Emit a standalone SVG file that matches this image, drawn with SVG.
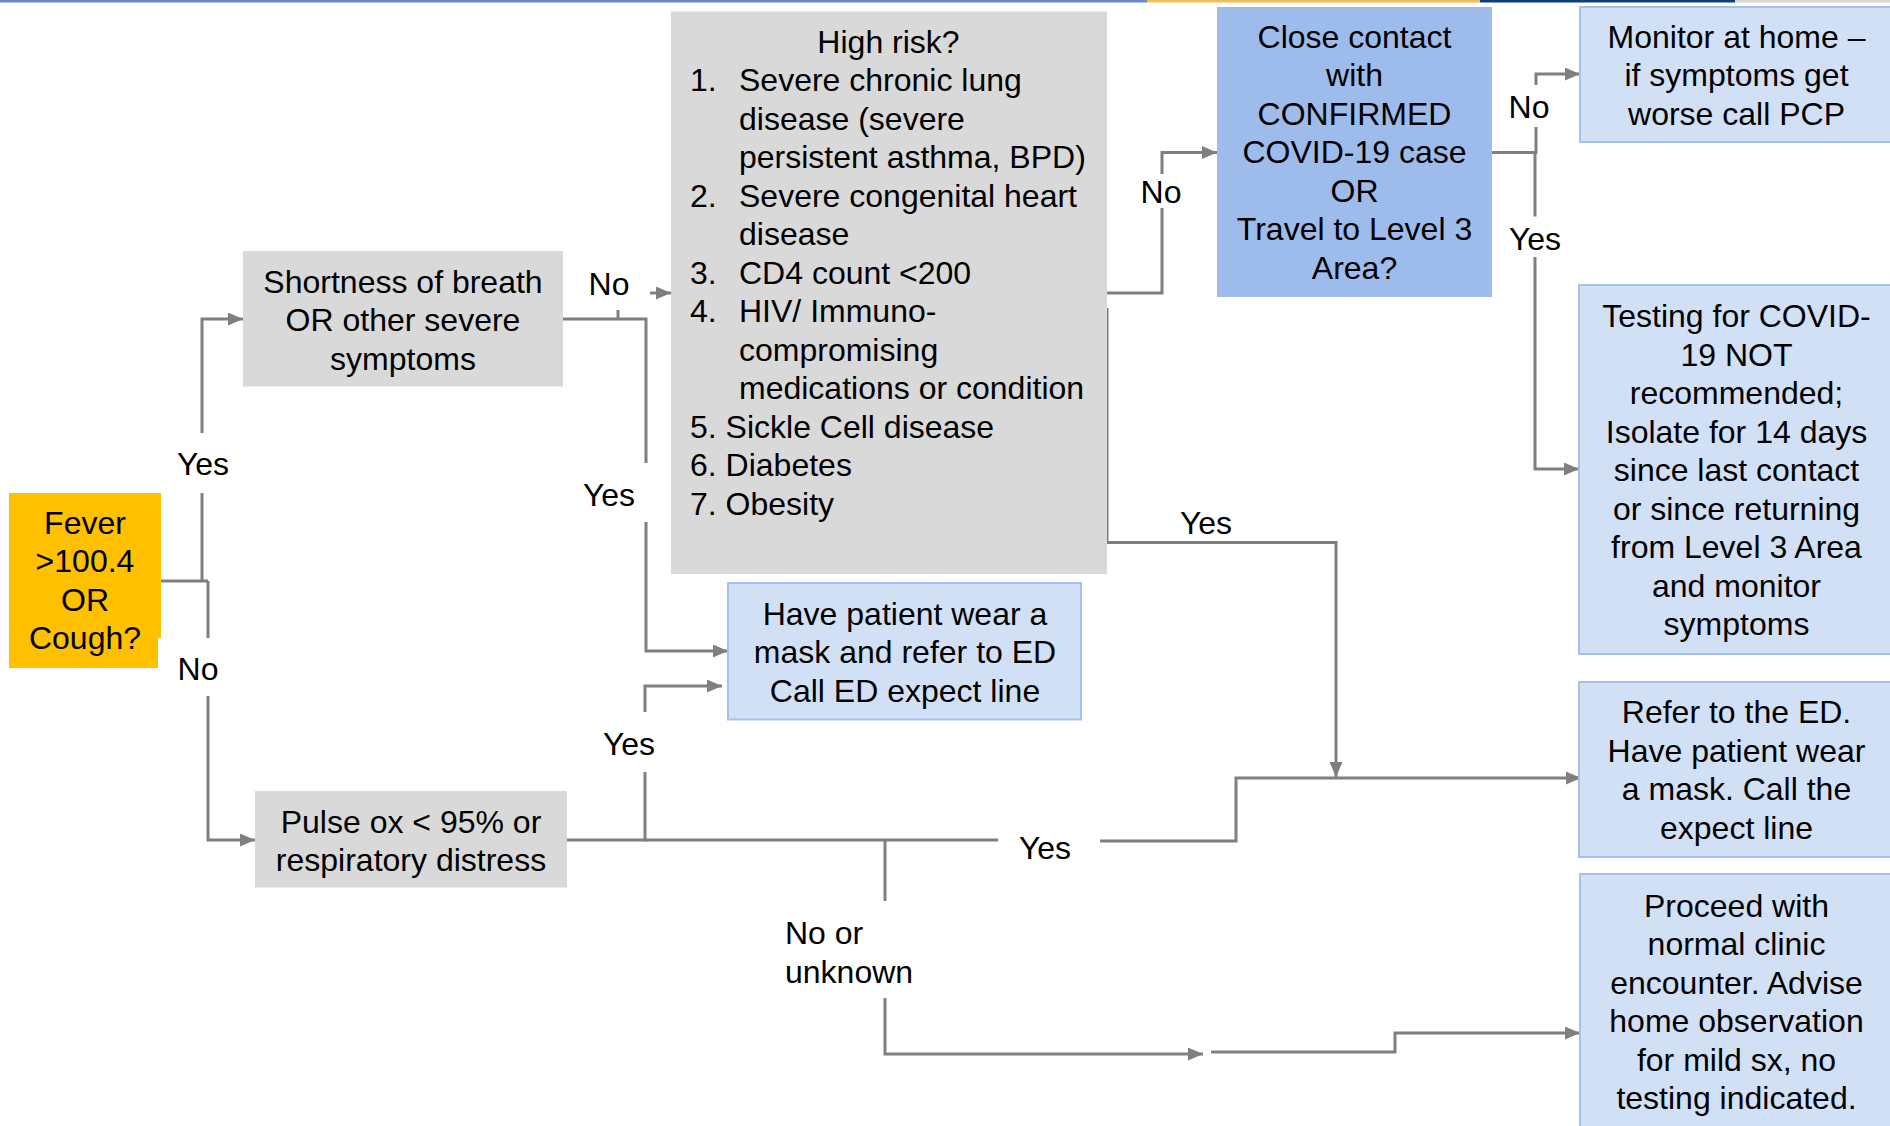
<svg xmlns="http://www.w3.org/2000/svg" width="1890" height="1126" viewBox="0 0 1890 1126">
<defs>
<style>
text{font-family:"Liberation Sans",Arial,sans-serif;font-size:32px;fill:#000}
.c{text-anchor:middle}
.ln{fill:none;stroke:#7f7f7f;stroke-width:3}
.gray{fill:#d9d9d9}
.lb{fill:#d2e0f6;stroke:#a4c1ee;stroke-width:2}
</style>
<marker id="ah" markerUnits="userSpaceOnUse" markerWidth="16" markerHeight="14" refX="15" refY="6.5" orient="auto">
<path d="M0,0 L15,6.5 L0,13 z" fill="#7f7f7f"/>
</marker>
</defs>
<rect width="1890" height="1126" fill="#fff"/>
<g id="topbar">
<rect x="0" y="0" width="1147" height="2.5" fill="#6a89c7"/>
<rect x="1147" y="0" width="333" height="2.5" fill="#f5bd57"/>
<rect x="1480" y="0" width="255" height="2.5" fill="#0c3f7a"/>
<rect x="1735" y="0" width="155" height="2.5" fill="#d8d8d8"/>
</g>
<g id="connectors">
<path class="ln" d="M161,581 H208"/>
<path class="ln" d="M202,581 V493"/>
<path class="ln" d="M202,433 V319 H243" marker-end="url(#ah)"/>
<path class="ln" d="M208,581 V638"/>
<path class="ln" d="M208,696 V840 H255" marker-end="url(#ah)"/>
<path class="ln" d="M563,319 H646 V463"/>
<path class="ln" d="M618,319 V310"/>
<path class="ln" d="M650,293 H671" marker-end="url(#ah)"/>
<path class="ln" d="M646,522 V651 H728" marker-end="url(#ah)"/>
<path class="ln" d="M1107,293 H1162 V208"/>
<path class="ln" d="M1162,174 V152.5 H1217" marker-end="url(#ah)"/>
<path class="ln" d="M1107,308 V542.5 H1336 V777" marker-end="url(#ah)"/>
<path class="ln" d="M1492,152.5 H1536 V127"/>
<path class="ln" d="M1536,85 V74 H1580" marker-end="url(#ah)"/>
<path class="ln" d="M1535,152.5 V216.5"/>
<path class="ln" d="M1535,257 V469 H1579" marker-end="url(#ah)"/>
<path class="ln" d="M566,840 H645 V772"/>
<path class="ln" d="M645,712 V686 H722" marker-end="url(#ah)"/>
<path class="ln" d="M645,840 H998"/>
<path class="ln" d="M1100,841 H1236 V778 H1581" marker-end="url(#ah)"/>
<path class="ln" d="M885,840 V901"/>
<path class="ln" d="M885,998 V1054 H1203" marker-end="url(#ah)"/>
<path class="ln" d="M1211,1052 H1395 V1033 H1580" marker-end="url(#ah)"/>
</g>
<g id="labels">
<text class="c" x="203" y="475">Yes</text>
<text class="c" x="198" y="680">No</text>
<text class="c" x="609" y="295">No</text>
<text class="c" x="609" y="506">Yes</text>
<text class="c" x="629" y="755">Yes</text>
<text class="c" x="1161" y="203">No</text>
<text class="c" x="1206" y="534">Yes</text>
<text class="c" x="1529" y="118">No</text>
<text class="c" x="1535" y="250">Yes</text>
<text class="c" x="1045" y="859">Yes</text>
<text x="785" y="944">No or</text>
<text x="785" y="982.5">unknown</text>
</g>
<g id="fever">
<path d="M9,493 H161 V638 H158 V668 H9 Z" fill="#ffc000"/>
<text class="c" x="85" y="533.5">Fever</text>
<text class="c" x="85" y="572">&gt;100.4</text>
<text class="c" x="85" y="610.5">OR</text>
<text class="c" x="85" y="649">Cough?</text>
</g>
<g id="shortness">
<rect class="gray" x="243" y="251" width="320" height="135.5"/>
<text class="c" x="403" y="292.5">Shortness of breath</text>
<text class="c" x="403" y="331">OR other severe</text>
<text class="c" x="403" y="369.5">symptoms</text>
</g>
<g id="pulseox">
<rect class="gray" x="255" y="791" width="312" height="96.5"/>
<text class="c" x="411" y="832.5">Pulse ox &lt; 95% or</text>
<text class="c" x="411" y="871">respiratory distress</text>
</g>
<g id="highrisk">
<rect class="gray" x="671" y="11.5" width="436" height="562.5"/>
<text class="c" x="888.5" y="52.5">High risk?</text>
<text x="690" y="91">1.</text><text x="739" y="91">Severe chronic lung</text>
<text x="739" y="129.5">disease (severe</text>
<text x="739" y="168">persistent asthma, BPD)</text>
<text x="690" y="206.5">2.</text><text x="739" y="206.5">Severe congenital heart</text>
<text x="739" y="245">disease</text>
<text x="690" y="283.5">3.</text><text x="739" y="283.5">CD4 count &lt;200</text>
<text x="690" y="322">4.</text><text x="739" y="322">HIV/ Immuno-</text>
<text x="739" y="360.5">compromising</text>
<text x="739" y="399">medications or condition</text>
<text x="690" y="437.5">5. Sickle Cell disease</text>
<text x="690" y="476">6. Diabetes</text>
<text x="690" y="514.5">7. Obesity</text>
</g>
<g id="havepatient">
<rect class="lb" x="728" y="583" width="353" height="136.5"/>
<text class="c" x="905" y="624.5">Have patient wear a</text>
<text class="c" x="905" y="663">mask and refer to ED</text>
<text class="c" x="905" y="701.5">Call ED expect line</text>
</g>
<g id="closecontact">
<rect x="1217" y="7" width="275" height="290" fill="#9dbbeb"/>
<text class="c" x="1354.5" y="47.5">Close contact</text>
<text class="c" x="1354.5" y="86">with</text>
<text class="c" x="1354.5" y="124.5">CONFIRMED</text>
<text class="c" x="1354.5" y="163">COVID-19 case</text>
<text class="c" x="1354.5" y="201.5">OR</text>
<text class="c" x="1354.5" y="240">Travel to Level 3</text>
<text class="c" x="1354.5" y="278.5">Area?</text>
</g>
<g id="monitor">
<rect class="lb" x="1580" y="7" width="316" height="135"/>
<text class="c" x="1736.5" y="47.5">Monitor at home –</text>
<text class="c" x="1736.5" y="86">if symptoms get</text>
<text class="c" x="1736.5" y="124.5">worse call PCP</text>
</g>
<g id="testing">
<rect class="lb" x="1579" y="285" width="317" height="369"/>
<text class="c" x="1736.5" y="327">Testing for COVID-</text>
<text class="c" x="1736.5" y="365.5">19 NOT</text>
<text class="c" x="1736.5" y="404">recommended;</text>
<text class="c" x="1736.5" y="442.5">Isolate for 14 days</text>
<text class="c" x="1736.5" y="481">since last contact</text>
<text class="c" x="1736.5" y="519.5">or since returning</text>
<text class="c" x="1736.5" y="558">from Level 3 Area</text>
<text class="c" x="1736.5" y="596.5">and monitor</text>
<text class="c" x="1736.5" y="635">symptoms</text>
</g>
<g id="refer">
<rect class="lb" x="1579" y="682" width="317" height="175"/>
<text class="c" x="1736.5" y="723.3">Refer to the ED.</text>
<text class="c" x="1736.5" y="761.8">Have patient wear</text>
<text class="c" x="1736.5" y="800.3">a mask. Call the</text>
<text class="c" x="1736.5" y="838.8">expect line</text>
</g>
<g id="proceed">
<rect class="lb" x="1580" y="874" width="316" height="260"/>
<text class="c" x="1736.5" y="916.5">Proceed with</text>
<text class="c" x="1736.5" y="955">normal clinic</text>
<text class="c" x="1736.5" y="993.5">encounter. Advise</text>
<text class="c" x="1736.5" y="1032">home observation</text>
<text class="c" x="1736.5" y="1070.5">for mild sx, no</text>
<text class="c" x="1736.5" y="1109">testing indicated.</text>
</g>
</svg>
